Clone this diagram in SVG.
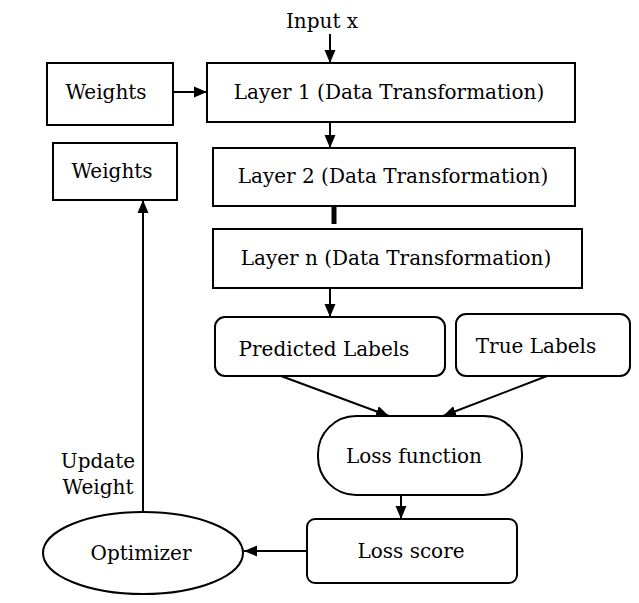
<svg xmlns="http://www.w3.org/2000/svg" width="639" height="603" viewBox="0 0 639 603">
<style>
.box{fill:#fff;stroke:#000;stroke-width:2}
.t{font-family:"DejaVu Serif","Liberation Serif",serif;font-size:20px;fill:#000;text-anchor:middle}
.c{fill:none;stroke:#000;stroke-width:2}
</style>
<defs>
<marker id="ah" markerUnits="userSpaceOnUse" markerWidth="13" markerHeight="13" viewBox="0 0 13 13" refX="13" refY="6.5" orient="auto">
<path d="M0,1 L13,6.5 L0,12 Z" fill="#000"/>
</marker>
</defs>
<rect width="639" height="603" fill="#fff"/>
<g id="connectors">
<line class="c" x1="330" y1="34" x2="330" y2="63" marker-end="url(#ah)"/>
<line class="c" x1="173" y1="92" x2="207" y2="92" marker-end="url(#ah)"/>
<line class="c" x1="330" y1="122" x2="330" y2="148" marker-end="url(#ah)"/>
<line x1="334" y1="206" x2="334" y2="224" stroke="#000" stroke-width="5"/>
<line class="c" x1="330" y1="288" x2="330" y2="317" marker-end="url(#ah)"/>
<line class="c" x1="281" y1="376" x2="389" y2="416" marker-end="url(#ah)"/>
<line class="c" x1="547" y1="376" x2="443" y2="416" marker-end="url(#ah)"/>
<line class="c" x1="401" y1="495" x2="401" y2="519" marker-end="url(#ah)"/>
<line class="c" x1="307" y1="551" x2="244" y2="551" marker-end="url(#ah)"/>
<line class="c" x1="143" y1="512" x2="143" y2="200" marker-end="url(#ah)"/>
<text class="t" x="98" y="468">Update</text>
<text class="t" x="98" y="494">Weight</text>
</g>
<g id="input"><text class="t" x="322" y="28">Input x</text></g>
<g id="weights1"><rect class="box" x="47" y="63" width="126" height="62"/><text class="t" x="106" y="99">Weights</text></g>
<g id="layer1"><rect class="box" x="207" y="63" width="368" height="59"/><text class="t" x="389" y="99">Layer 1 (Data Transformation)</text></g>
<g id="weights2"><rect class="box" x="53" y="143" width="124" height="57"/><text class="t" x="112" y="178">Weights</text></g>
<g id="layer2"><rect class="box" x="213" y="148" width="362" height="58"/><text class="t" x="393" y="183">Layer 2 (Data Transformation)</text></g>
<g id="layern"><rect class="box" x="213" y="229" width="369" height="59"/><text class="t" x="396" y="265">Layer n (Data Transformation)</text></g>
<g id="predicted"><rect class="box" x="215" y="317" width="230" height="59" rx="10"/><text class="t" x="324" y="356">Predicted Labels</text></g>
<g id="true"><rect class="box" x="456" y="314" width="174" height="62" rx="10"/><text class="t" x="536" y="353">True Labels</text></g>
<g id="lossfn"><rect class="box" x="318" y="416" width="204" height="79" rx="38" ry="38"/><text class="t" x="414" y="463">Loss function</text></g>
<g id="lossscore"><rect class="box" x="307" y="519" width="210" height="64" rx="8"/><text class="t" x="411" y="558">Loss score</text></g>
<g id="optimizer"><ellipse class="box" cx="143" cy="553" rx="100" ry="41"/><text class="t" x="141" y="560">Optimizer</text></g>
</svg>
